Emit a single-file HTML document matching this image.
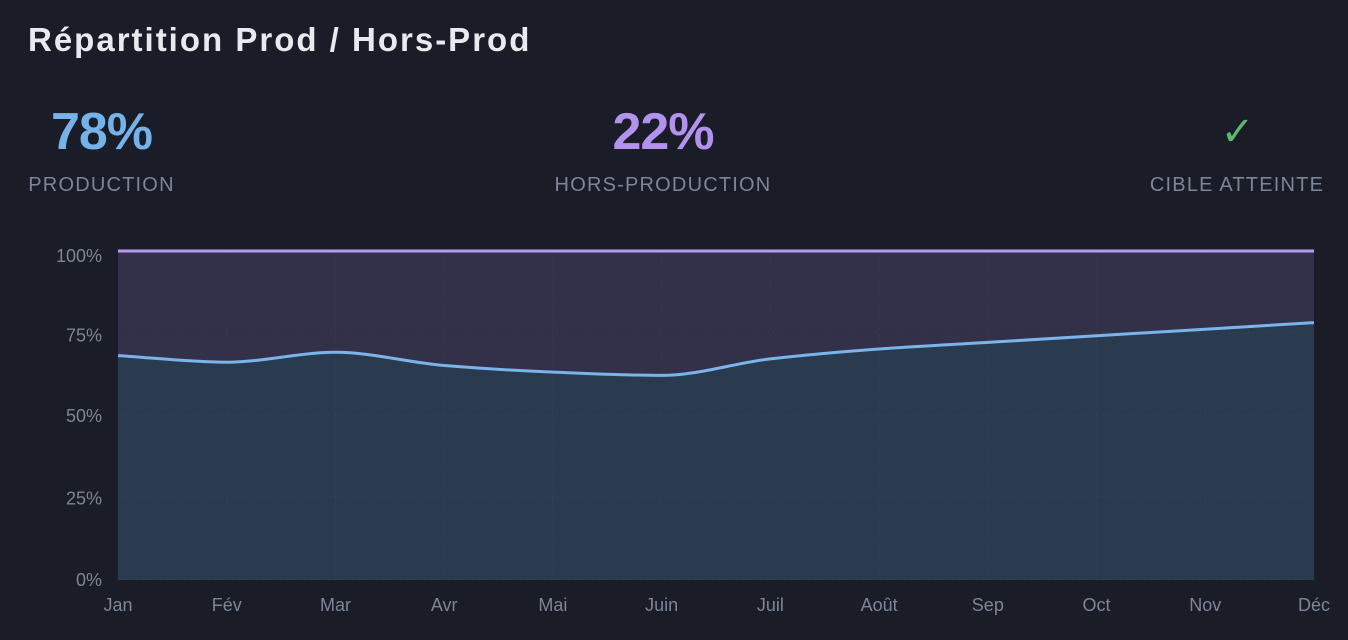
<!DOCTYPE html>
<html><head><meta charset="utf-8"><style>
body{margin:0;width:1348px;height:640px;background:#1a1c27;font-family:"Liberation Sans",sans-serif;overflow:hidden;position:relative}
.t{position:absolute;left:28px;top:21px;font-size:33px;font-weight:bold;color:#e8eaf0;letter-spacing:2px;white-space:nowrap}
.k{position:absolute;text-align:center;white-space:nowrap}
.k .v{font-size:52px;font-weight:bold;letter-spacing:-1px;height:62px;line-height:62px}
.k .l{font-size:20px;color:#7d8596;letter-spacing:1.2px;margin-top:11px}
svg{position:absolute;left:0;top:0}
</style></head><body>
<div class="t">Répartition Prod / Hors-Prod</div>
<div class="k" style="left:28px;top:101px;width:147px"><div class="v" style="color:#76b2ea">78%</div><div class="l">PRODUCTION</div></div>
<div class="k" style="left:552px;top:101px;width:222px"><div class="v" style="color:#b392ee">22%</div><div class="l">HORS-PRODUCTION</div></div>
<div class="k" style="left:1140px;top:101px;width:194px"><div class="v" style="color:#5cb870;font-weight:normal;font-size:40px">✓</div><div class="l">CIBLE ATTEINTE</div></div>
<svg width="1348" height="640" id="s" font-family="Liberation Sans, sans-serif" font-size="18" fill="#7d8596"></svg>
<script>
var v=[68,66,69,65,63,62,67,70,72,74,76,78],x0=118,x1=1314,yb=580,h=330;
var m=["Jan","Fév","Mar","Avr","Mai","Juin","Juil","Août","Sep","Oct","Nov","Déc"];
var P=v.map((d,i)=>[x0+i*(x1-x0)/11,yb-d*h/100]);
var n=P.length,dx=P[1][0]-P[0][0],sl=[],t=[];
for(var i=0;i<n-1;i++)sl.push((P[i+1][1]-P[i][1])/dx);
for(var i=0;i<n;i++){if(i==0)t.push(sl[0]);else if(i==n-1)t.push(sl[n-2]);else{var a=sl[i-1],b=sl[i];t.push(a*b<=0?0:2/(1/a+1/b));}}
var d="M"+P[0][0]+","+P[0][1];
for(var i=0;i<n-1;i++){var c=dx/3;d+=" C"+(P[i][0]+c)+","+(P[i][1]+t[i]*c)+" "+(P[i+1][0]-c)+","+(P[i+1][1]-t[i+1]*c)+" "+P[i+1][0]+","+P[i+1][1];}
var s='<rect x="118" y="250" width="1196" height="330" fill="#33304a"/>';
s+='<path d="'+d+' L1314,580 L118,580Z" fill="#2a3a4f"/>';
for(var i=1;i<11;i++){var x=x0+i*dx;s+='<line x1="'+x+'" y1="250" x2="'+x+'" y2="580" stroke="#ffffff" stroke-opacity="0.03" stroke-dasharray="3,3"/>';}
[0,25,50,75].forEach(p=>{var y=yb-p*h/100;s+='<line x1="118" y1="'+y+'" x2="1314" y2="'+y+'" stroke="#ffffff" stroke-opacity="0.03" stroke-dasharray="3,3"/>';});
s+='<line x1="118" y1="251" x2="1314" y2="251" stroke="#b79af0" stroke-width="3"/>';
s+='<path d="'+d+'" fill="none" stroke="#7ab4ea" stroke-width="3"/>';
[0,25,50,75,100].forEach(p=>{var y=yb-p*h/100+(p==0?6:p==100?12:p==75?9:7);s+='<text x="102" y="'+y+'" text-anchor="end">'+p+'%</text>';});
m.forEach((l,i)=>{s+='<text x="'+(x0+i*dx)+'" y="611" text-anchor="middle">'+l+'</text>';});
document.getElementById('s').innerHTML=s;
</script>
</body></html>
